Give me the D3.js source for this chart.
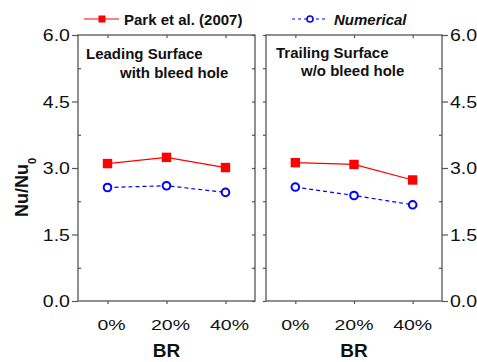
<!DOCTYPE html>
<html>
<head>
<meta charset="utf-8">
<script src="https://cdn.jsdelivr.net/npm/d3@7"></script>
<style>
  html, body { margin: 0; padding: 0; background: #fff; }
  svg { display: block; font-family: Arial, "Liberation Sans", Helvetica, sans-serif; }
</style>
</head>
<body>
<svg id="chart" width="477" height="362"></svg>
<script>
// Blowing ratio categories
const categories = ["0%", "20%", "40%"];
// Nu/Nu0 ratio, leading surface (with bleed hole)
const leadingPark = [3.10, 3.24, 3.01];
const leadingNumerical = [2.56, 2.60, 2.45];
// Nu/Nu0 ratio, trailing surface (w/o bleed hole)
const trailingPark = [3.12, 3.08, 2.73];
const trailingNumerical = [2.57, 2.38, 2.17];
// Axis ticks
const yMajorTicks = [0, 1.5, 3.0, 4.5, 6.0];
const yMinorTicks = [0.75, 2.25, 3.75, 5.25];
const seriesNames = ["Park et al. (2007)", "Numerical"];

const svg = d3.select("#chart");
const frameColor = "#555";
const red = "#ff0000";
const blue = "#0000ff";

const y = d3.scaleLinear().domain([0, 6]).range([301, 35]);

const panels = [
  { x0: 78, x1: 255, park: leadingPark, num: leadingNumerical,
    title: ["Leading Surface", "with bleed hole"], tx: [86, 120], ty: [58.5, 78],
    axisSide: "left", labelDx: 4 },
  { x0: 266, x1: 442, park: trailingPark, num: trailingNumerical,
    title: ["Trailing Surface", "w/o bleed hole"], tx: [276, 301], ty: [57.5, 76],
    axisSide: "right", labelDx: 0 }
];

// Stretch a text node horizontally by a factor, keeping its anchor
function stretch(sel, k) {
  sel.each(function () {
    const len = this.getComputedTextLength();
    d3.select(this).attr("textLength", len * k).attr("lengthAdjust", "spacingAndGlyphs");
  });
}

panels.forEach(p => {
  const x = d3.scalePoint().domain(categories).range([p.x0, p.x1]).padding(0.5);
  const g = svg.append("g");

  // Frame
  g.append("rect")
    .attr("x", p.x0).attr("y", y(6))
    .attr("width", p.x1 - p.x0).attr("height", y(0) - y(6))
    .attr("fill", "none").attr("stroke", frameColor).attr("stroke-width", 1.3);

  // X ticks (bottom outward, top inward)
  const bottomAxis = d3.axisBottom(x).tickSize(3).tickFormat("");
  g.append("g").attr("transform", `translate(0,${y(0)})`).call(bottomAxis)
    .call(a => a.select(".domain").remove())
    .call(a => a.selectAll("line").attr("stroke", frameColor).attr("stroke-width", 1.2));
  const topAxis = d3.axisBottom(x).tickSize(3).tickFormat("");
  g.append("g").attr("transform", `translate(0,${y(6)})`).call(topAxis)
    .call(a => a.select(".domain").remove())
    .call(a => a.selectAll("line").attr("stroke", frameColor).attr("stroke-width", 1.2));

  // Y ticks on outer axis (major outward, minor short)
  const outerX = p.axisSide === "left" ? p.x0 : p.x1;
  const innerX = p.axisSide === "left" ? p.x1 : p.x0;
  const dirOut = p.axisSide === "left" ? -1 : 1;
  const majorAxis = (p.axisSide === "left" ? d3.axisLeft(y) : d3.axisRight(y))
    .tickValues(yMajorTicks).tickSize(6).tickFormat("");
  g.append("g").attr("transform", `translate(${outerX},0)`).call(majorAxis)
    .call(a => a.select(".domain").remove())
    .call(a => a.selectAll("line").attr("stroke", frameColor).attr("stroke-width", 1.2));
  const minorAxis = (p.axisSide === "left" ? d3.axisRight(y) : d3.axisLeft(y))
    .tickValues(yMinorTicks).tickSize(3).tickFormat("");
  g.append("g").attr("transform", `translate(${outerX},0)`).call(minorAxis)
    .call(a => a.select(".domain").remove())
    .call(a => a.selectAll("line").attr("stroke", frameColor).attr("stroke-width", 1.2));
  // Inner edge ticks
  const innerAxis = d3.axisLeft(y).tickValues(yMajorTicks.concat(yMinorTicks)).tickSize(3).tickFormat("");
  g.append("g").attr("transform", `translate(${innerX},0)`).call(innerAxis)
    .call(a => a.select(".domain").remove())
    .call(a => a.selectAll("line").attr("stroke", frameColor).attr("stroke-width", 1.2));

  // Y tick labels
  const yl = g.selectAll("text.ylab").data(yMajorTicks).join("text")
    .attr("class", "ylab")
    .attr("x", outerX + dirOut * 8)
    .attr("y", d => y(d) + 6)
    .attr("text-anchor", p.axisSide === "left" ? "end" : "start")
    .attr("font-size", 16).attr("fill", "#111")
    .text(d => d.toFixed(1));
  stretch(yl, 1.22);

  // X tick labels
  const xl = g.selectAll("text.xlab").data(categories).join("text")
    .attr("class", "xlab")
    .attr("x", d => x(d) + p.labelDx)
    .attr("y", 330)
    .attr("text-anchor", "middle")
    .attr("font-size", 15).attr("fill", "#111")
    .text(d => d);
  stretch(xl, 1.3);

  // X axis title
  g.append("text")
    .attr("x", (p.x0 + p.x1) / 2).attr("y", 357)
    .attr("text-anchor", "middle")
    .attr("font-size", 19).attr("font-weight", "bold").attr("fill", "#111")
    .text("BR");

  // Panel caption
  p.title.forEach((t, i) => {
    g.append("text")
      .attr("x", p.tx[i]).attr("y", p.ty[i])
      .attr("font-size", 15).attr("font-weight", "bold").attr("fill", "#111")
      .text(t);
  });

  // Park et al. series: solid red line with squares
  const line = d3.line().x((d, i) => x(categories[i])).y(d => y(d));
  g.append("path").datum(p.park)
    .attr("d", line).attr("fill", "none")
    .attr("stroke", red).attr("stroke-width", 1.2);
  g.selectAll("rect.park").data(p.park).join("rect")
    .attr("class", "park")
    .attr("x", (d, i) => x(categories[i]) - 4.7)
    .attr("y", d => y(d) - 4.7)
    .attr("width", 9.4).attr("height", 9.4)
    .attr("fill", red);

  // Numerical series: dashed blue line with open circles
  g.append("path").datum(p.num)
    .attr("d", line).attr("fill", "none")
    .attr("stroke", blue).attr("stroke-width", 1.2)
    .attr("stroke-dasharray", "4,3");
  g.selectAll("circle.num").data(p.num).join("circle")
    .attr("class", "num")
    .attr("cx", (d, i) => x(categories[i]))
    .attr("cy", d => y(d))
    .attr("r", 3.8)
    .attr("fill", "#fff")
    .attr("stroke", blue).attr("stroke-width", 2);
});

// Y axis title
svg.append("text")
  .attr("transform", "translate(28,217) rotate(-90)")
  .attr("font-size", 18).attr("font-weight", "bold").attr("fill", "#111")
  .call(t => {
    t.append("tspan").text("Nu/Nu");
    t.append("tspan").attr("dy", 8).attr("font-size", 11).text("0");
  });

// Legend
const lg = svg.append("g");
lg.append("line").attr("x1", 84).attr("x2", 119).attr("y1", 19).attr("y2", 19)
  .attr("stroke", red).attr("stroke-width", 1.2);
lg.append("rect").attr("x", 98.5).attr("y", 15.5).attr("width", 7).attr("height", 7).attr("fill", red);
lg.append("text").attr("x", 124).attr("y", 25)
  .attr("font-size", 15).attr("font-weight", "bold").attr("fill", "#111")
  .text(seriesNames[0]);

lg.append("line").attr("x1", 292).attr("x2", 327).attr("y1", 19).attr("y2", 19)
  .attr("stroke", blue).attr("stroke-width", 1.2).attr("stroke-dasharray", "3,3");
lg.append("circle").attr("cx", 310).attr("cy", 19).attr("r", 3)
  .attr("fill", "#fff").attr("stroke", blue).attr("stroke-width", 1.6);
lg.append("text").attr("x", 334).attr("y", 25)
  .attr("font-size", 15).attr("font-weight", "bold").attr("font-style", "italic").attr("fill", "#111")
  .text(seriesNames[1]);
</script>
</body>
</html>
